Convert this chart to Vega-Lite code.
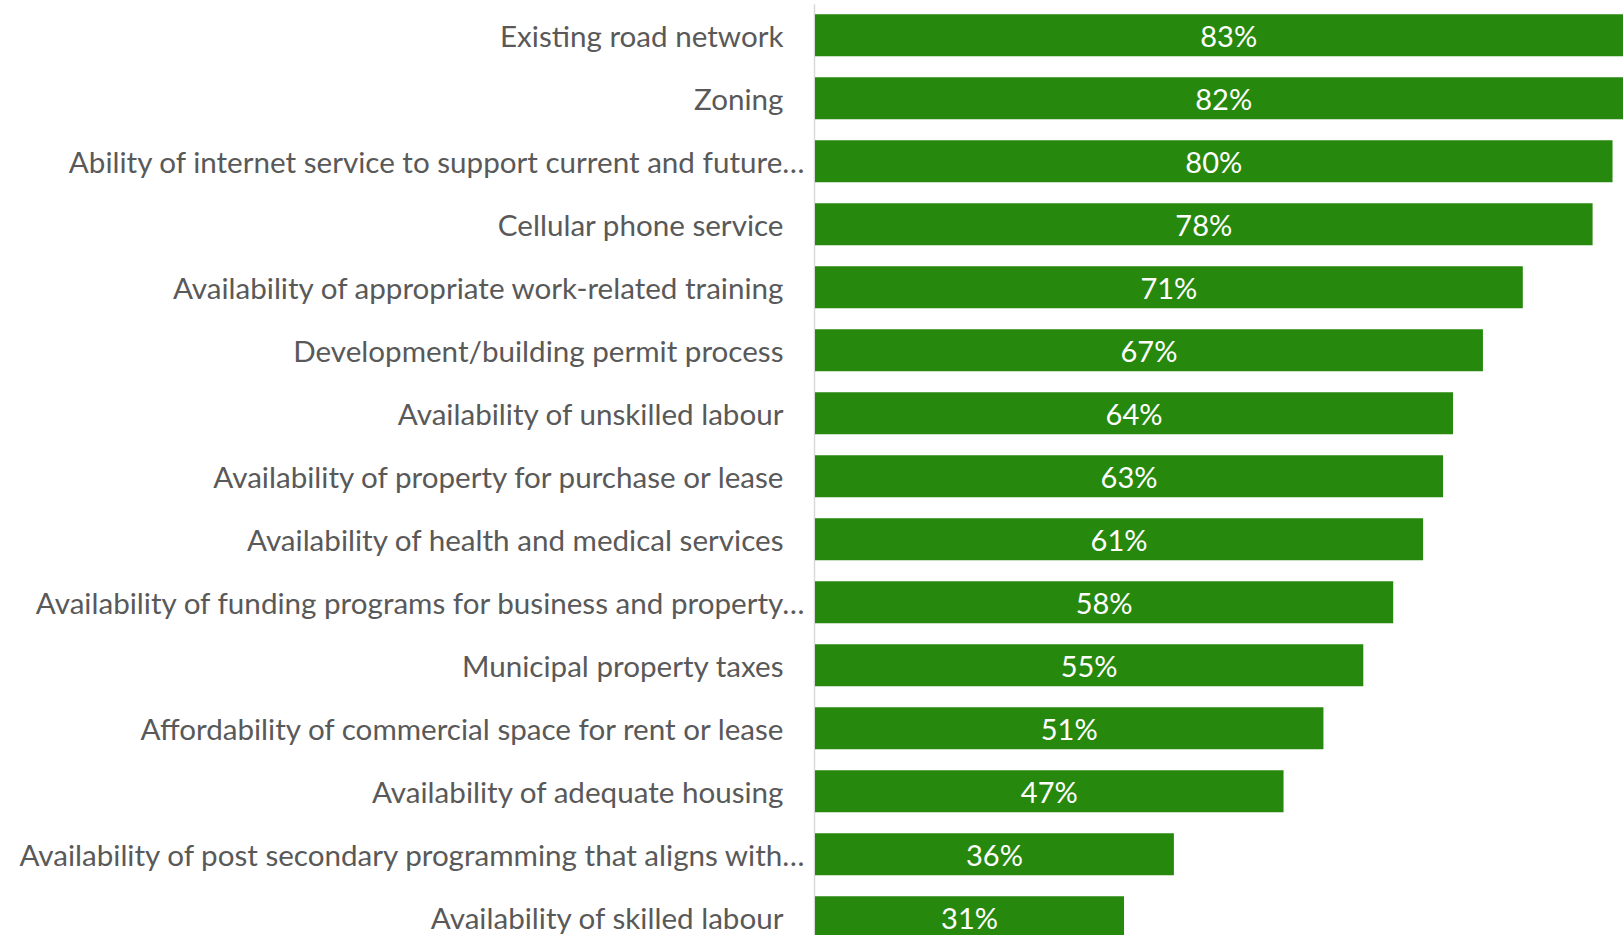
{
  "$schema": "https://vega.github.io/schema/vega-lite/v6.json",
  "autosize": {"type": "none"},
  "padding": {"left": 815, "top": 0, "right": 0, "bottom": 0},
  "width": 808,
  "height": 935,
  "background": "white",
  "config": {"view": {"stroke": null}},
  "data": {"values": [
    {"label": "Existing road network", "pct": 83},
    {"label": "Zoning", "pct": 82},
    {"label": "Ability of internet service to support current and future…", "pct": 80},
    {"label": "Cellular phone service", "pct": 78},
    {"label": "Availability of appropriate work-related training", "pct": 71},
    {"label": "Development/building permit process", "pct": 67},
    {"label": "Availability of unskilled labour", "pct": 64},
    {"label": "Availability of property for purchase or lease", "pct": 63},
    {"label": "Availability of health and medical services", "pct": 61},
    {"label": "Availability of funding programs for business and property…", "pct": 58},
    {"label": "Municipal property taxes", "pct": 55},
    {"label": "Affordability of commercial space for rent or lease", "pct": 51},
    {"label": "Availability of adequate housing", "pct": 47},
    {"label": "Availability of post secondary programming that aligns with…", "pct": 36},
    {"label": "Availability of skilled labour", "pct": 31}
  ]},
  "encoding": {
    "y": {
      "field": "label", "type": "nominal", "sort": null,
      "scale": {"range": [3.8, 948.8], "paddingInner": 0.3333, "paddingOuter": 0.1667},
      "axis": {
        "title": null, "ticks": false, "domainColor": "#d9d9d9", "domainWidth": 1.5, "offset": 1,
        "labelFont": "Lato", "labelFontSize": 29.6, "labelColor": "#595959", "labelLimit": 0, "labelOffset": 3,
        "labelPadding": {"condition": {"test": "indexof(datum.label, '…') >= 0", "value": 10}, "value": 31}
      }
    }
  },
  "layer": [
    {
      "mark": {"type": "bar", "color": "#26890d", "clip": true},
      "encoding": {
        "x": {"field": "pct", "type": "quantitative", "scale": {"domain": [0, 81.05], "nice": false, "zero": true}, "axis": null}
      }
    },
    {
      "transform": [{"calculate": "datum.pct / 2", "as": "mid"}, {"calculate": "datum.pct + '%'", "as": "txt"}],
      "mark": {"type": "text", "color": "white", "font": "Lato", "fontSize": 29, "baseline": "middle", "align": "center", "dy": 3},
      "encoding": {
        "x": {"field": "mid", "type": "quantitative"},
        "text": {"field": "txt"}
      }
    }
  ]
}
